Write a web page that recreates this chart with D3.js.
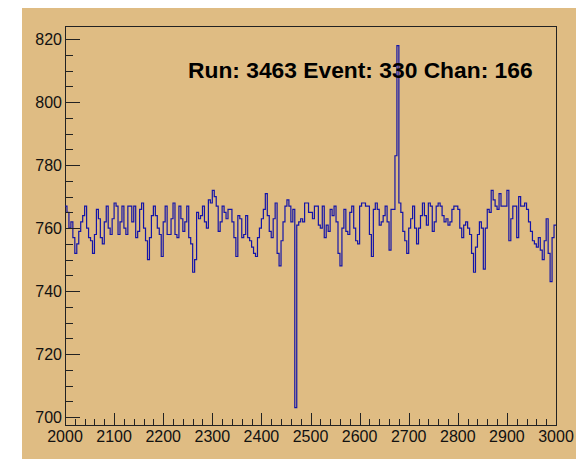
<!DOCTYPE html>
<html lang="en">
<head>
  <meta charset="UTF-8">
  <title>Run 3463 Event 330 Chan 166</title>
  <style>
    html, body { margin: 0; padding: 0; background: #fff; }
    svg { display: block; font-family: "Liberation Sans", Helvetica, Arial, sans-serif; }
  </style>
</head>
<body>
  <div id="main"></div>
  <script src="https://cdn.jsdelivr.net/npm/d3@7"></script>
  <script>
    // histogram: 250 bins of 4 ticks from 2000 to 3000
    const xStart = 2000
    const binWidth = 4
    const adcValues = [
      767,765,760,762,757,752,755,759,762,764,767,760,757,756,752,758,766,763,757,755,762,767,760,758,763,
      768,767,758,762,767,760,758,767,767,762,767,757,759,766,768,760,756,750,757,764,767,764,760,758,751,
      762,767,758,758,763,768,758,757,767,763,759,762,767,757,755,746,750,765,763,764,767,762,760,769,768,
      772,770,767,759,762,767,765,763,766,766,762,757,751,764,763,757,758,764,757,756,754,752,751,757,760,
      763,766,771,764,759,757,763,768,752,748,756,762,767,769,767,762,766,703,761,762,763,762,768,768,765,
      765,763,767,767,761,760,767,757,761,759,766,764,767,762,752,748,760,766,759,758,765,767,760,756,755,
      767,768,768,767,767,758,751,766,768,766,761,762,764,767,762,753,766,766,783,818,768,765,759,756,752,
      760,763,767,760,755,760,764,768,764,761,768,767,759,762,767,768,767,764,762,763,761,762,766,767,767,
      766,760,757,761,762,760,758,752,746,754,758,762,760,747,760,766,765,772,769,767,766,771,767,767,767,
      772,756,763,767,767,757,770,767,767,768,766,762,759,756,755,754,757,753,750,756,763,752,743,757,761
    ]
    const xTicks = [2000, 2100, 2200, 2300, 2400, 2500, 2600, 2700, 2800, 2900, 3000]
    const yTicks = [700, 720, 740, 760, 780, 800, 820]
    const titleText = "Run: 3463 Event: 330 Chan: 166"

    const W = 576, H = 459
    const bg = "#dfbc83"
    const frame = { left: 65, right: 556, top: 26, bottom: 425 }

    let svg = d3.select('#main').append('svg')
      .attr('width', W)
      .attr('height', H)

    // canvas pad
    svg.append('rect')
      .attr('x', 22).attr('y', 8)
      .attr('width', W - 22).attr('height', H - 8)
      .attr('fill', bg)

    let x = d3.scaleLinear().domain([2000, 3000]).range([frame.left, frame.right])
    let y = d3.scaleLinear().domain([697.5, 824.2]).range([frame.bottom, frame.top])

    // frame
    svg.append('rect')
      .attr('x', frame.left).attr('y', frame.top)
      .attr('width', frame.right - frame.left)
      .attr('height', frame.bottom - frame.top)
      .attr('fill', 'none')
      .attr('stroke', '#222')
      .attr('stroke-width', 1)
      .attr('shape-rendering', 'crispEdges')

    // histogram line
    let pts = adcValues.map((v, i) => [xStart + i * binWidth, v])
    pts.push([xStart + adcValues.length * binWidth, adcValues[adcValues.length - 1]])
    let line = d3.line()
      .x(d => x(d[0]))
      .y(d => y(d[1]))
      .curve(d3.curveStepAfter)
    svg.append('path')
      .attr('d', line(pts))
      .attr('fill', 'none')
      .attr('stroke', '#1414a8')
      .attr('stroke-width', 1.2)
      .attr('stroke-linejoin', 'miter')

    // x axis: major every 100, minor every 20
    let xAxisMajor = d3.axisTop(x).tickValues(xTicks).tickSize(12).tickFormat('')
    let xAxisMinor = d3.axisTop(x).tickValues(d3.range(2000, 3001, 20)).tickSize(6).tickFormat('')
    svg.append('g').attr('transform', `translate(0,${frame.bottom})`).call(xAxisMinor)
    svg.append('g').attr('transform', `translate(0,${frame.bottom})`).call(xAxisMajor)

    // y axis: major every 20, minor every 5
    let yAxisMajor = d3.axisRight(y).tickValues(yTicks).tickSize(15).tickFormat('')
    let yAxisMinor = d3.axisRight(y).tickValues(d3.range(700, 821, 5)).tickSize(7.5).tickFormat('')
    svg.append('g').attr('transform', `translate(${frame.left},0)`).call(yAxisMinor)
    svg.append('g').attr('transform', `translate(${frame.left},0)`).call(yAxisMajor)

    svg.selectAll('.domain').remove()
    svg.selectAll('.tick line').attr('stroke', '#222').attr('shape-rendering', 'crispEdges')

    // tick labels
    svg.append('g').selectAll('text')
      .data(xTicks).join('text')
      .attr('x', d => x(d))
      .attr('y', 442)
      .attr('text-anchor', 'middle')
      .attr('font-size', 16)
      .attr('fill', '#111')
      .text(d => d)

    svg.append('g').selectAll('text')
      .data(yTicks).join('text')
      .attr('x', 62)
      .attr('y', d => y(d) + 6)
      .attr('text-anchor', 'end')
      .attr('font-size', 16)
      .attr('fill', '#111')
      .text(d => d)

    // title
    svg.append('text')
      .attr('x', 188)
      .attr('y', 78)
      .attr('font-size', 22.8)
      .attr('font-weight', 'bold')
      .attr('fill', '#000')
      .text(titleText)
  </script>
</body>
</html>
